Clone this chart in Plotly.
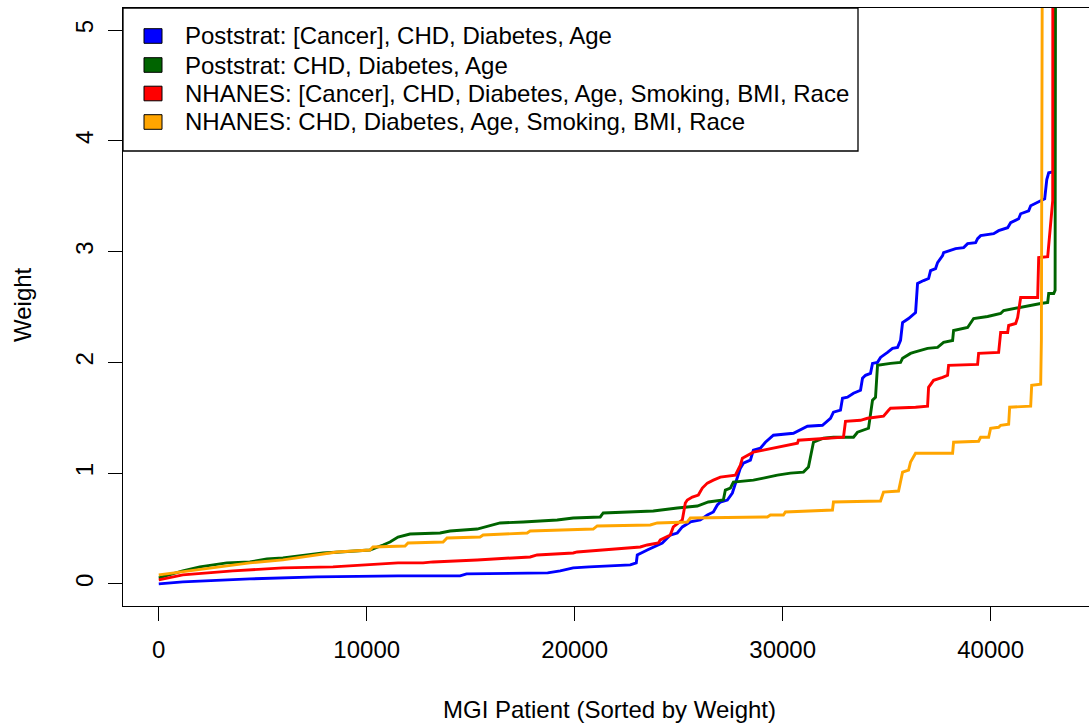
import plotly.graph_objects as go

# Sorted MGI patient weights under four weighting schemes (rank, weight breakpoints)
series_names = [
    "Poststrat: [Cancer], CHD, Diabetes, Age",
    "Poststrat: CHD, Diabetes, Age",
    "NHANES: [Cancer], CHD, Diabetes, Age, Smoking, BMI, Race",
    "NHANES: CHD, Diabetes, Age, Smoking, BMI, Race",
]
series_colors = ["#0000FF", "#006400", "#FF0000", "#FFA500"]

poststrat_cancer_x = [0, 1155, 4380, 7605, 11504, 14489, 14800, 18700, 19302, 19928, 20700, 22672,
                      22960, 23009, 23490, 23779, 24212, 24597, 24934, 25175, 25560, 26041, 26378,
                      26667, 26859, 27004, 27341, 27581, 27726, 27822, 27966, 28111, 28448, 28592,
                      28929, 29170, 29410, 29555, 30518, 31191, 31913, 32058, 32299, 32443, 32780,
                      32876, 33117, 33406, 33743, 33839, 33983, 34224, 34320, 34561, 34705, 35042,
                      35283, 35524, 35668, 35765, 36053, 36390, 36486, 36775, 37016, 37112, 37353,
                      37449, 37690, 37738, 38075, 38315, 38701, 38893, 39278, 39374, 39519, 40145,
                      40385, 40818, 40963, 41348, 41444, 41829, 41926, 42262, 42407, 42600, 42700,
                      42792, 42985]
poststrat_cancer_y = [0.0, 0.018, 0.045, 0.063, 0.072, 0.072, 0.09, 0.099, 0.117, 0.144, 0.153, 0.171,
                      0.189, 0.261, 0.306, 0.333, 0.369, 0.441, 0.459, 0.514, 0.559, 0.577, 0.622,
                      0.649, 0.712, 0.739, 0.757, 0.82, 0.91, 0.964, 1.045, 1.09, 1.117, 1.207,
                      1.225, 1.279, 1.324, 1.342, 1.36, 1.423, 1.432, 1.459, 1.495, 1.55, 1.568,
                      1.676, 1.685, 1.721, 1.748, 1.856, 1.883, 1.901, 1.991, 2.0, 2.045, 2.09,
                      2.126, 2.135, 2.198, 2.36, 2.396, 2.45, 2.712, 2.739, 2.757, 2.829, 2.847,
                      2.901, 2.964, 2.991, 3.009, 3.027, 3.036, 3.072, 3.081, 3.117, 3.144, 3.162,
                      3.189, 3.216, 3.261, 3.297, 3.342, 3.369, 3.414, 3.441, 3.459, 3.477, 3.65,
                      3.712, 3.72]

poststrat_x = [0, 1155, 1974, 3273, 4380, 5199, 5969, 6787, 7894, 8712, 10156, 10782, 11119, 11504,
               12082, 13526, 14007, 15307, 15933, 16414, 17521, 19158, 19928, 21227, 21372, 22335,
               23779, 24934, 25897, 26426, 27148, 27244, 27485, 27630, 28592, 29074, 29748, 30373,
               30999, 31240, 31480, 31962, 32443, 33406, 33598, 34128, 34320, 34465, 34561, 35187,
               35668, 35765, 36149, 36294, 36630, 36967, 37449, 37738, 38171, 38219, 38893, 39182,
               39856, 40482, 40626, 41107, 41444, 41829, 42407, 42744, 42792, 43033, 43100, 43140]
poststrat_y = [0.054, 0.117, 0.153, 0.189, 0.198, 0.225, 0.234, 0.252, 0.279, 0.288, 0.306, 0.351,
               0.378, 0.423, 0.45, 0.459, 0.477, 0.495, 0.523, 0.55, 0.559, 0.577, 0.595, 0.604,
               0.64, 0.649, 0.658, 0.685, 0.703, 0.739, 0.757, 0.847, 0.865, 0.919, 0.937, 0.955,
               0.982, 1.0, 1.009, 1.054, 1.279, 1.315, 1.324, 1.324, 1.369, 1.405, 1.658, 1.685,
               1.973, 1.991, 2.0, 2.036, 2.081, 2.09, 2.108, 2.126, 2.135, 2.18, 2.198, 2.288, 2.315,
               2.396, 2.414, 2.441, 2.468, 2.486, 2.495, 2.514, 2.532, 2.541, 2.622, 2.622, 2.65, 8.5]

nhanes_cancer_x = [0, 1155, 3562, 5969, 8376, 10012, 11504, 12708, 13189, 15307, 16751, 17858,
                   18195, 19928, 20120, 21227, 22335, 23153, 23490, 24019, 24116, 24597, 24741,
                   25175, 25319, 25415, 25656, 25945, 26137, 26378, 26667, 27004, 27726, 27966,
                   28063, 28351, 28592, 29074, 29748, 30229, 30710, 30758, 32924, 33021, 33743,
                   34079, 34850, 35091, 35187, 36390, 36967, 37016, 37256, 37690, 37930, 37979,
                   39374, 39422, 40385, 40482, 40818, 40867, 41204, 41300, 41444, 42262, 42311,
                   42744, 42985, 43000]
nhanes_cancer_y = [0.036, 0.081, 0.117, 0.144, 0.153, 0.171, 0.189, 0.189, 0.198, 0.216, 0.234, 0.243,
                   0.261, 0.279, 0.288, 0.306, 0.324, 0.333, 0.351, 0.369, 0.396, 0.441, 0.514,
                   0.577, 0.73, 0.757, 0.784, 0.802, 0.865, 0.91, 0.937, 0.964, 0.982, 1.072,
                   1.135, 1.162, 1.189, 1.207, 1.234, 1.252, 1.27, 1.297, 1.324, 1.468, 1.477,
                   1.495, 1.514, 1.568, 1.586, 1.595, 1.604, 1.775, 1.838, 1.865, 1.883, 1.973,
                   1.982, 2.081, 2.09, 2.27, 2.27, 2.333, 2.351, 2.405, 2.586, 2.586, 2.946,
                   2.955, 3.46, 8.5]

nhanes_x = [0, 1155, 2792, 4380, 5969, 7605, 8568, 10156, 10301, 11841, 11986, 13670, 13863, 15451,
            15596, 17713, 17858, 20891, 21083, 23634, 23971, 25415, 25560, 29266, 29410, 30036,
            30133, 32395, 32443, 34705, 34850, 35572, 35668, 35765, 36053, 36149, 36390, 38171,
            38219, 39422, 39519, 39904, 40000, 40385, 40482, 40867, 40915, 41926, 41974, 42407,
            42440, 42520]
nhanes_y = [0.081, 0.108, 0.153, 0.189, 0.216, 0.261, 0.288, 0.306, 0.333, 0.342, 0.369, 0.378,
            0.414, 0.423, 0.441, 0.459, 0.477, 0.495, 0.523, 0.532, 0.55, 0.559, 0.595, 0.604,
            0.622, 0.622, 0.649, 0.667, 0.739, 0.748, 0.829, 0.838, 0.919, 1.009, 1.027, 1.099,
            1.18, 1.18, 1.279, 1.288, 1.324, 1.324, 1.405, 1.414, 1.432, 1.441, 1.595, 1.604,
            1.793, 1.802, 2.2, 8.5]

x_ticks = [0, 10000, 20000, 30000, 40000]
y_ticks = [0, 1, 2, 3, 4, 5]

all_x = [poststrat_cancer_x, poststrat_x, nhanes_cancer_x, nhanes_x]
all_y = [poststrat_cancer_y, poststrat_y, nhanes_cancer_y, nhanes_y]

W, H = 1089, 725
L, R, T, B = 123, 0, 8, 119
PW, PH = W - L - R, H - T - B
FONT = "Liberation Sans, Arial, Helvetica, sans-serif"


def px_x(px):
    return (px - L) / PW


def px_y(py):
    return (H - B - py) / PH


fig = go.Figure()
for xs, ys, name, col in zip(all_x, all_y, series_names, series_colors):
    fig.add_trace(go.Scatter(x=xs, y=ys, mode="lines", name=name,
                             line=dict(color=col, width=2.9), showlegend=False,
                             hoverinfo="skip"))

# Legend box with filled colour keys
shapes = [dict(type="rect", xref="paper", yref="paper", x0=px_x(123), x1=px_x(858),
               y0=px_y(151), y1=px_y(8), line=dict(color="black", width=1.3),
               fillcolor="white", layer="above")]
annotations = []
row_centers = [36, 65, 93.5, 122]
for name, col, cy in zip(series_names, series_colors, row_centers):
    shapes.append(dict(type="rect", xref="paper", yref="paper", x0=px_x(144), x1=px_x(162),
                       y0=px_y(cy + 7.3), y1=px_y(cy - 7.3), fillcolor=col,
                       line=dict(color="black", width=1), layer="above"))
    annotations.append(dict(text=name, xref="paper", yref="paper", x=px_x(183), y=px_y(cy),
                            xanchor="left", yanchor="middle", showarrow=False,
                            font=dict(size=24, color="black", family=FONT)))

# Axis titles
annotations.append(dict(text="MGI Patient (Sorted by Weight)", xref="paper", yref="paper",
                        x=px_x(609), y=px_y(709), xanchor="center", yanchor="middle",
                        showarrow=False, font=dict(size=24, color="black", family=FONT)))
annotations.append(dict(text="Weight", xref="paper", yref="paper", x=px_x(22), y=px_y(305),
                        xanchor="center", yanchor="middle", textangle=-90, showarrow=False,
                        font=dict(size=24, color="black", family=FONT)))

fig.update_layout(
    width=W, height=H,
    margin=dict(l=L, r=R, t=T, b=B, pad=0),
    paper_bgcolor="white", plot_bgcolor="white",
    font=dict(family=FONT, size=24, color="black"),
    shapes=shapes, annotations=annotations,
    xaxis=dict(range=[-1720, 44730], tickvals=x_ticks, ticktext=[str(v) for v in x_ticks],
               showgrid=False, zeroline=False, showline=True, mirror=True,
               linecolor="black", linewidth=1.3, ticks="outside", ticklen=14,
               tickwidth=1.3, tickcolor="black", ticklabelstandoff=8),
    yaxis=dict(range=[-0.2, 5.2], tickvals=y_ticks, ticktext=[str(v) for v in y_ticks],
               showgrid=False, zeroline=False, showline=True, mirror=False,
               linecolor="black", linewidth=1.3, ticks="outside", ticklen=14,
               tickwidth=1.3, tickcolor="black", tickangle=-90, ticklabelstandoff=5),
)

fig.write_html("out.html")
